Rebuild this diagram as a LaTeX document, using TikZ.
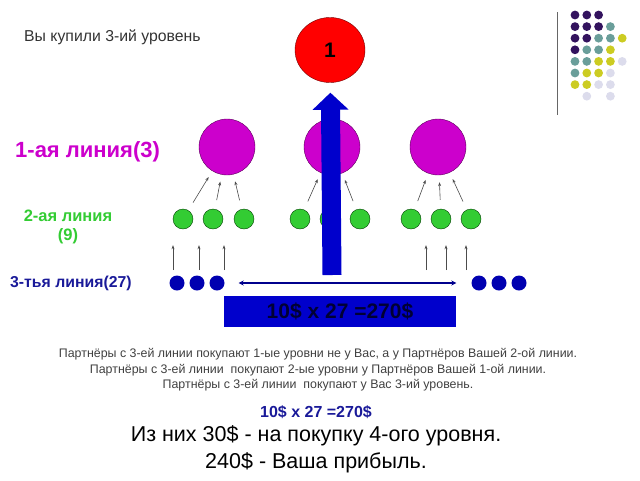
\documentclass[tikz,border=0pt]{standalone}
\usepackage{fontspec}
\setmainfont{Liberation Sans}
\usetikzlibrary{arrows.meta,shapes.geometric}
\definecolor{cRed}{HTML}{FF0000}
\definecolor{cMag}{HTML}{CC00CC}
\definecolor{cGreen}{HTML}{33CC33}
\definecolor{cDot}{HTML}{0000B0}
\definecolor{cBig}{HTML}{0000CC}
\definecolor{cNavy}{HTML}{1A1A99}
\definecolor{dP}{HTML}{33135E}
\definecolor{dT}{HTML}{6A9E9A}
\definecolor{dY}{HTML}{CCCC22}
\definecolor{dL}{HTML}{DCDCEC}
\tikzset{
  lvl0/.style={ellipse,draw=red!45!black,fill=cRed,minimum width=70pt,minimum height=65pt,inner sep=0pt,
    font=\fontsize{21}{21}\selectfont\bfseries},
  lvl1/.style={circle,draw=cMag!45!black,fill=cMag,minimum size=56pt,inner sep=0pt},
  lvl2/.style={circle,draw=green!25!black,fill=cGreen,minimum size=20pt,inner sep=0pt},
  lvl3/.style={circle,fill=cDot,minimum size=15pt,inner sep=0pt},
  up/.style={-{Stealth[length=4pt,width=3pt]},black!70,line width=0.6pt},
  txt/.style={inner sep=0pt,text=black!80}
}
\begin{document}
\begin{tikzpicture}[x=1pt,y=-1pt]
  \useasboundingbox (0,0) rectangle (640,480);
  % top
  \node[txt,anchor=west,font=\fontsize{15.8}{16}\selectfont] (title) at (24,37) {Вы купили 3-ий уровень};
  \node[lvl0] (one) at (330,50) {1};
  % corner dots
  \draw[black!60,line width=1pt] (557,12) -- (557,115);
  \foreach \c/\r/\cl in {0/0/dP,1/0/dP,2/0/dP,
      0/1/dP,1/1/dP,2/1/dP,3/1/dT,
      0/2/dP,1/2/dP,2/2/dT,3/2/dT,4/2/dY,
      0/3/dP,1/3/dT,2/3/dT,3/3/dY,
      0/4/dT,1/4/dT,2/4/dY,3/4/dY,4/4/dL,
      0/5/dT,1/5/dY,2/5/dY,3/5/dL,
      0/6/dY,1/6/dY,2/6/dL,3/6/dL,
      1/7/dL,3/7/dL}
    \fill[\cl] (575+11.8*\c,15+11.6*\r) circle (4.4pt);
  % line labels
  \node[inner sep=0pt,anchor=west,text=cMag,font=\fontsize{22}{22}\selectfont\bfseries] (l1) at (15,152) {1-ая линия(3)};
  \node[inner sep=0pt,text=cGreen,align=center,font=\fontsize{16.5}{19}\selectfont\bfseries] (l2) at (68,227) {2-ая линия\\(9)};
  \node[inner sep=0pt,anchor=west,text=cNavy,font=\fontsize{15.8}{16}\selectfont\bfseries] (l3) at (10,283) {3-тья линия(27)};
  % first line
  \node[lvl1] (m1) at (227,147) {};
  \node[lvl1] (m2) at (332,147) {};
  \node[lvl1] (m3) at (438,147) {};
  % second line
  \node[lvl2] (g11) at (183,219) {};
  \node[lvl2] (g12) at (213,219) {};
  \node[lvl2] (g13) at (244,219) {};
  \node[lvl2] (g21) at (300,219) {};
  \node[lvl2] (g22) at (330,219) {};
  \node[lvl2] (g23) at (360,219) {};
  \node[lvl2] (g31) at (411,219) {};
  \node[lvl2] (g32) at (441,219) {};
  \node[lvl2] (g33) at (471,219) {};
  % third line
  \node[lvl3] (b11) at (177,283) {};
  \node[lvl3] (b12) at (197,283) {};
  \node[lvl3] (b13) at (217,283) {};
  \node[lvl3] (b31) at (479,283) {};
  \node[lvl3] (b32) at (499,283) {};
  \node[lvl3] (b33) at (519,283) {};
  \coordinate (u11) at (173,270);
  \coordinate (u12) at (199,270);
  \coordinate (u13) at (224,270);
  \coordinate (u31) at (426,270);
  \coordinate (u32) at (446,270);
  \coordinate (u33) at (466,270);
  \begin{scope}[up]
    \foreach \g in {1,2,3} {
      \draw[shorten <=9pt,shorten >=7pt] (g1\g) -- (m1);
      \draw[shorten <=9pt,shorten >=7pt] (g2\g) -- (m2);
      \draw[shorten <=9pt,shorten >=7pt] (g3\g) -- (m3);
    }
    \foreach \g in {11,12,13,31,32,33}
      \draw[shorten >=16pt] (u\g) -- (u\g |- g\g.south);
  \end{scope}
  % big arrow
  \coordinate (foot) at (332,275);
  \draw[cBig,line width=19pt,-{Triangle[width=35pt,length=17pt]},shorten >=10pt] (foot) -- (one);
  \draw[{Stealth[length=5pt,width=5pt]}-{Stealth[length=5pt,width=5pt]},cDot!80!black,line width=2pt,
    shorten <=14pt,shorten >=15pt] (b13) -- (b31);
  \node[fill=cBig,minimum width=232pt,minimum height=31pt,inner sep=0pt,text=black!80!blue,
    font=\fontsize{21}{21}\selectfont\bfseries] (sum) at (340,311.5) {10\$ x 27 =270\$};
  % bottom text
  \node[txt,align=center,font=\fontsize{12.4}{15.5}\selectfont,text=black!75] (note) at (318,370)
    {Партнёры с 3-ей линии покупают 1-ые уровни не у Вас, а у Партнёров Вашей 2-ой линии.\\
     Партнёры с 3-ей линии\ \ покупают 2-ые уровни у Партнёров Вашей 1-ой линии.\\
     Партнёры с 3-ей линии\ \ покупают у Вас 3-ий уровень.};
  \node[inner sep=0pt,text=cNavy,font=\fontsize{16}{16}\selectfont\bfseries] (sum2) at (316,412) {10\$ x 27 =270\$};
  \node[txt,align=center,font=\fontsize{21.5}{27}\selectfont,text=black] (res) at (316,449.5)
    {Из них 30\$ - на покупку 4-ого уровня.\\240\$ - Ваша прибыль.};
\end{tikzpicture}
\end{document}
